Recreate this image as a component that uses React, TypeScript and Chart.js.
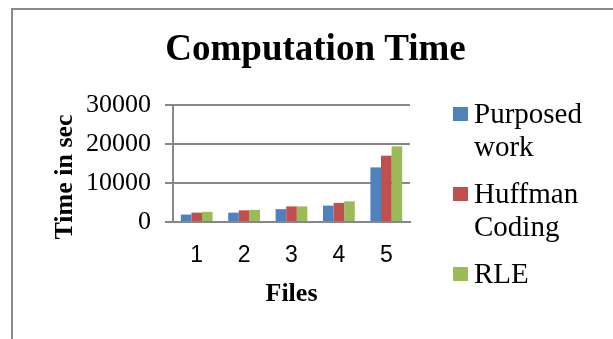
import React, { useEffect, useRef } from 'react';
import { Chart, registerables } from 'chart.js';

Chart.register(...registerables);

// ---- data ----
const categories = ['1', '2', '3', '4', '5'];
const purposedWork = [1900, 2400, 3300, 4200, 14000];
const huffmanCoding = [2400, 3000, 4000, 4900, 17000];
const rleValues = [2600, 3100, 4000, 5300, 19400];
const seriesLabels = ['Purposed work', 'Huffman Coding', 'RLE'];
const seriesColors = ['#4F81BD', '#C0504D', '#9BBB59'];
const yTickMin = 0;
const yTickMax = 30000;
const yTickStep = 10000;
const chartTitle = 'Computation Time';
const xAxisTitle = 'Files';
const yAxisTitle = 'Time in sec';

const GRID = '#878787';
const SERIF = '"Liberation Serif", "Times New Roman", serif';
const SANS = '"Liberation Sans", Arial, sans-serif';

const yTitlePlugin = {
  id: 'yTitlePlugin',
  afterDraw(chart: any) {
    const { ctx, chartArea } = chart;
    ctx.save();
    ctx.translate(chartArea.left - 101, (chartArea.top + chartArea.bottom) / 2 + 13.5);
    ctx.rotate(-Math.PI / 2);
    ctx.font = `bold 26px ${SERIF}`;
    ctx.fillStyle = '#000';
    ctx.textAlign = 'center';
    ctx.textBaseline = 'alphabetic';
    ctx.fillText(yAxisTitle, 0, 0);
    ctx.restore();
  },
};

const sideLegendPlugin = {
  id: 'sideLegendPlugin',
  afterDraw(chart: any) {
    const { ctx, chartArea } = chart;
    const x0 = chartArea.right + 43;
    let baseline = chartArea.top + 18;
    const lineH = 32.5;
    const itemGap = 47.5;
    ctx.save();
    ctx.font = `29px ${SERIF}`;
    ctx.textAlign = 'left';
    ctx.textBaseline = 'alphabetic';
    chart.data.datasets.forEach((ds: any) => {
      const lines = String(ds.label).split(' ');
      ctx.fillStyle = ds.backgroundColor;
      ctx.fillRect(x0, baseline - 16, 15, 14);
      ctx.fillStyle = '#000';
      lines.forEach((ln: string, i: number) => ctx.fillText(ln, x0 + 21, baseline + i * lineH));
      baseline += (lines.length - 1) * lineH + itemGap;
    });
    ctx.restore();
  },
};

export default function App() {
  const canvasRef = useRef<HTMLCanvasElement | null>(null);

  useEffect(() => {
    const canvas = canvasRef.current;
    if (!canvas) return;
    const seriesValues = [purposedWork, huffmanCoding, rleValues];
    const chart = new Chart(canvas, {
      type: 'bar',
      data: {
        labels: categories,
        datasets: seriesValues.map((vals, i) => ({
          label: seriesLabels[i],
          data: vals,
          backgroundColor: seriesColors[i],
          borderWidth: 0,
          categoryPercentage: 0.67,
          barPercentage: 1.0,
          xAxisID: 'x',
          yAxisID: 'y',
        })),
      },
      options: {
        responsive: false,
        animation: false,
        devicePixelRatio: 1,
        layout: { padding: { left: 18, right: 0, top: 0, bottom: 0 } },
        plugins: {
          legend: { display: false },
          tooltip: { enabled: false },
          title: {
            display: true,
            text: chartTitle,
            color: '#000',
            font: { family: SERIF, size: 37, weight: 'bold' },
            padding: { top: 28.6, bottom: 32 },
          },
        },
        scales: {
          x: {
            type: 'category',
            position: 'bottom',
            grid: { display: false, drawTicks: false },
            border: { display: true, color: GRID, width: 2 },
            ticks: {
              color: '#000',
              font: { family: SANS, size: 23 },
              padding: 20,
              maxRotation: 0,
            },
            title: {
              display: true,
              text: xAxisTitle,
              color: '#000',
              font: { family: SERIF, size: 26, weight: 'bold' },
              padding: { top: 0, bottom: 28.9 },
            },
            afterFit: (s: any) => {
              s.height = 117;
            },
          },
          y: {
            type: 'linear',
            position: 'left',
            min: yTickMin,
            max: yTickMax,
            ticks: {
              stepSize: yTickStep,
              color: '#000',
              font: { family: SERIF, size: 26 },
              padding: 14,
              callback: (v: any) => String(v),
            },
            grid: { color: GRID, lineWidth: 2, tickLength: 8, drawTicks: true },
            border: { display: true, color: GRID, width: 2 },
            afterFit: (s: any) => {
              s.width = 155;
            },
          },
          ySpace: {
            type: 'linear',
            position: 'right',
            display: true,
            grid: { display: false, drawTicks: false },
            ticks: { display: false },
            border: { display: false },
            afterFit: (s: any) => {
              s.width = 203;
            },
          },
        },
      } as any,
      plugins: [yTitlePlugin, sideLegendPlugin],
    });
    return () => chart.destroy();
  }, []);

  return (
    <div
      style={{
        position: 'fixed',
        left: 0,
        top: 0,
        width: 613,
        height: 339,
        overflow: 'hidden',
        background: '#fff',
      }}
    >
      <div
        style={{
          position: 'absolute',
          left: 11,
          top: 8,
          width: 700,
          height: 400,
          border: '2px solid #8a8a8a',
          boxSizing: 'border-box',
        }}
      />
      <canvas
        ref={canvasRef}
        width={613}
        height={339}
        style={{ position: 'absolute', left: 0, top: 0, width: 613, height: 339 }}
      />
    </div>
  );
}
